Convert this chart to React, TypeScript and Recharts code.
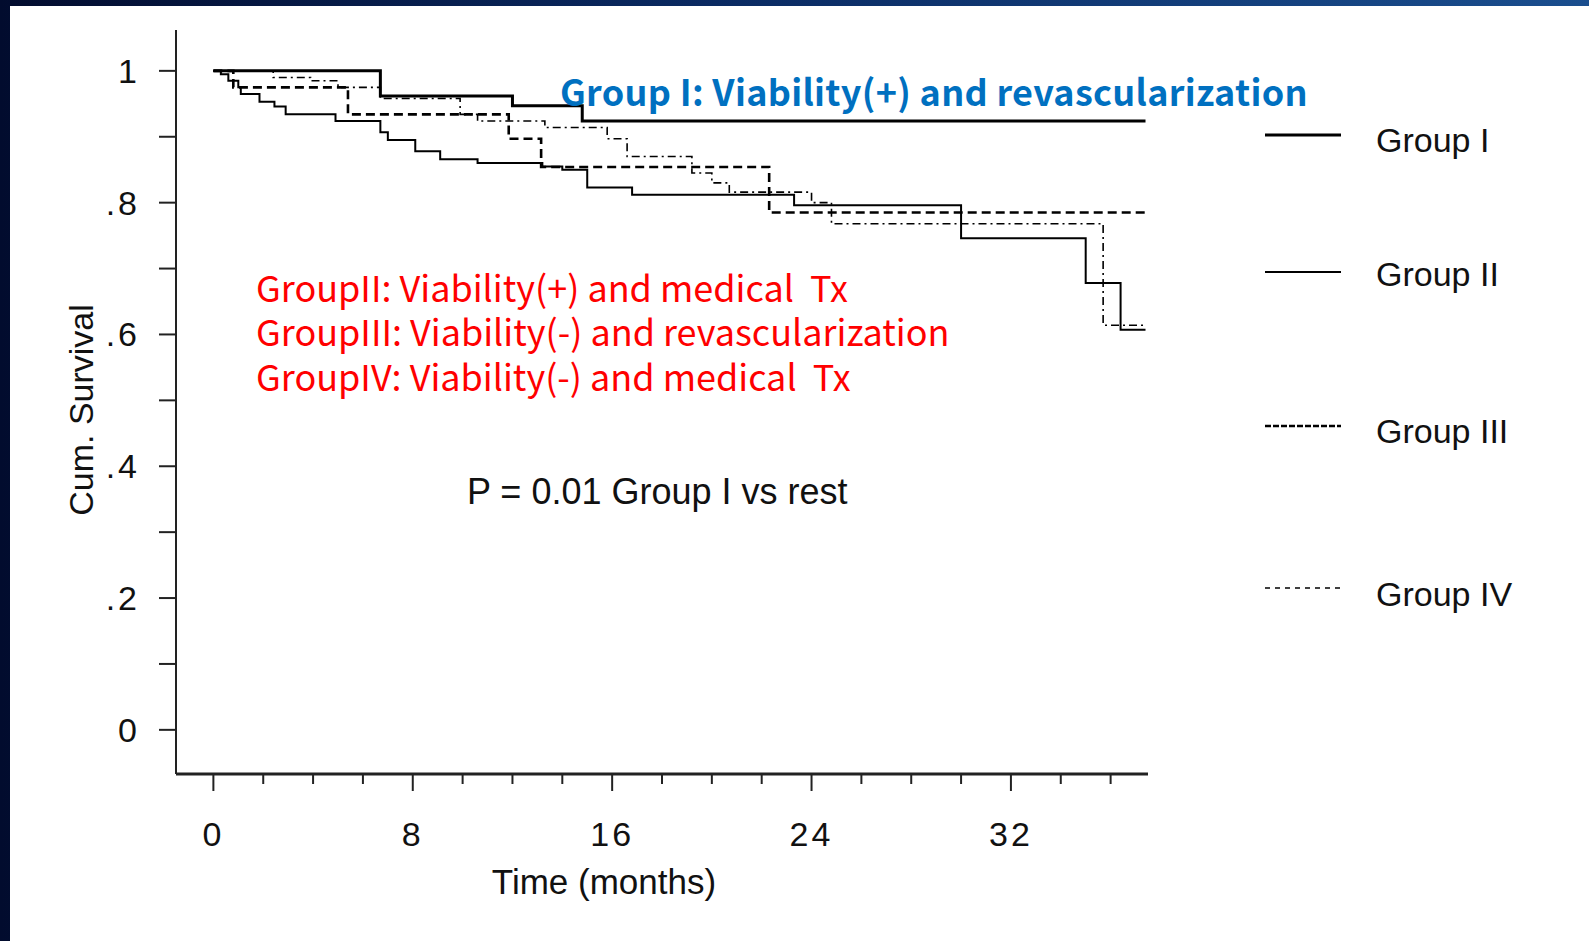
import React from "react";
import { LineChart, Line, XAxis, YAxis } from "recharts";

// Kaplan-Meier steps (months, cumulative survival)
const group1Time = [0, 6.7, 12.0, 14.8, 37.4];
const group1Surv = [1.0, 0.962, 0.947, 0.924, 0.924];

const group2Time = [0, 0.3, 0.6, 1.0, 1.1, 1.85, 2.45, 2.9, 4.9, 6.7, 7.0, 8.1, 9.1, 10.6, 13.2, 14.0, 15.0, 16.8, 23.3, 30.0, 35.0, 36.4, 37.4];
const group2Surv = [1.0, 0.995, 0.985, 0.975, 0.965, 0.953, 0.946, 0.934, 0.924, 0.907, 0.895, 0.878, 0.866, 0.86, 0.855, 0.85, 0.823, 0.812, 0.796, 0.746, 0.678, 0.607, 0.607];

const group3Time = [0, 0.8, 5.4, 11.85, 13.15, 22.3, 37.4];
const group3Surv = [1.0, 0.975, 0.934, 0.897, 0.854, 0.785, 0.785];

const group4Time = [0, 2.4, 3.9, 5.0, 6.7, 9.9, 10.6, 13.3, 15.8, 16.6, 19.2, 20.0, 20.7, 24.0, 24.8, 35.7, 37.4];
const group4Surv = [1.0, 0.99, 0.985, 0.975, 0.958, 0.934, 0.924, 0.914, 0.897, 0.87, 0.845, 0.83, 0.816, 0.8, 0.768, 0.614, 0.614];

const xTicks = [0, 2, 4, 6, 8, 10, 12, 14, 16, 18, 20, 22, 24, 26, 28, 30, 32, 34, 36];
const xMajor = [0, 8, 16, 24, 32];
const yTicks = [0, 0.1, 0.2, 0.3, 0.4, 0.5, 0.6, 0.7, 0.8, 0.9, 1];
const yTickLabels = ["0", "", ".2", "", ".4", "", ".6", "", ".8", "", "1"];

const legendNames = ["Group I", "Group II", "Group III", "Group IV"];
const noteLines = [
  "GroupII: Viability(+) and medical  Tx",
  "GroupIII: Viability(-) and revascularization",
  "GroupIV: Viability(-) and medical  Tx",
];

const toData = (t: number[], s: number[]) => t.map((v, i) => ({ t: v, s: s[i] }));

const W = 1589;
const H = 941;
const axisFont = "'Liberation Sans', Arial, Helvetica, sans-serif";
const slideFont = "'Noto Sans CJK KR', 'Noto Sans', sans-serif";

const seriesStyle = [
  { width: 3, dash: undefined },
  { width: 2, dash: undefined },
  { width: 2.6, dash: "9 5" },
  { width: 1.6, dash: "8 4 2 4" },
];
const legendY = [135, 272, 426, 588];
const legendTextY = [140, 274, 431, 594];

const XTick = (props: any) => {
  const { x, y, payload } = props;
  const major = xMajor.includes(payload.value);
  return (
    <g>
      <line x1={x} x2={x} y1={y} y2={y + (major ? 17 : 10)} stroke="#222" strokeWidth={2} />
      {major && (
        <text x={x} y={y + 60} dy="0.35em" textAnchor="middle" fontSize={34}
          fontFamily={axisFont} letterSpacing={3} fill="#111">
          {payload.value}
        </text>
      )}
    </g>
  );
};

const YTick = (props: any) => {
  const { x, y, payload } = props;
  const idx = yTicks.indexOf(payload.value);
  return (
    <g>
      <line x1={x - 17} x2={x} y1={y} y2={y} stroke="#222" strokeWidth={2} />
      <text x={x - 36} y={y} dy="0.35em" textAnchor="end" fontSize={34}
        fontFamily={axisFont} letterSpacing={3} fill="#111">
        {yTickLabels[idx]}
      </text>
    </g>
  );
};

export default function App() {
  const series = [
    toData(group1Time, group1Surv),
    toData(group2Time, group2Surv),
    toData(group3Time, group3Surv),
    toData(group4Time, group4Surv),
  ];
  return (
    <div style={{ position: "fixed", left: 0, top: 0, width: W, height: H, overflow: "hidden",
      background: "linear-gradient(90deg, #020c2e 0%, #0a2a62 45%, #1a4e8e 100%)" }}>
      <div style={{ position: "absolute", left: 10, top: 6, right: 0, bottom: 0, background: "#fff" }} />
      <div style={{ position: "absolute", left: 0, top: 0 }}>
        <LineChart width={W} height={H} margin={{ top: 30, left: 175, right: W - 1148, bottom: H - 775 }}>
          <XAxis type="number" dataKey="t" domain={[-1.5, 37.5]} ticks={xTicks} interval={0}
            allowDataOverflow height={1} tickLine={false} tickSize={0} tickMargin={0}
            axisLine={{ stroke: "#222", strokeWidth: 3 }} tick={<XTick />} />
          <YAxis type="number" dataKey="s" domain={[-0.067, 1.062]} ticks={yTicks} interval={0}
            allowDataOverflow width={1} tickLine={false} tickSize={0} tickMargin={0}
            axisLine={{ stroke: "#222", strokeWidth: 2 }} tick={<YTick />} />
          {series.map((d, i) => (
            <Line key={legendNames[i]} data={d} dataKey="s" type="stepAfter" stroke="#000"
              strokeWidth={seriesStyle[i].width} strokeDasharray={seriesStyle[i].dash}
              dot={false} activeDot={false} isAnimationActive={false} />
          ))}
        </LineChart>
      </div>

      {/* legend and slide annotations */}
      <svg style={{ position: "absolute", left: 0, top: 0 }} width={W} height={H}>
        {legendNames.map((n, i) => (
          <g key={n}>
            <line x1={1265} x2={1341} y1={legendY[i]} y2={legendY[i]} stroke="#000"
              strokeWidth={seriesStyle[i].width} strokeDasharray={i === 2 ? "6 2" : i === 3 ? "5 5" : undefined} />
            <text x={1376} y={legendTextY[i]} dy="0.35em" fontSize={34} fontFamily={axisFont} fill="#111">{n}</text>
          </g>
        ))}
        <text x={0} y={0} transform="translate(81,410) rotate(-90)" textAnchor="middle" dy="0.35em"
          fontSize={34} fontFamily={axisFont} fill="#111">Cum. Survival</text>
        <text x={604} y={882} textAnchor="middle" dy="0.35em" fontSize={35} fontFamily={axisFont} fill="#111">Time (months)</text>
        <text x={467} y={491} dy="0.35em" fontSize={36} fontFamily={axisFont} fill="#111">P = 0.01 Group I vs rest</text>
        <text x={560} y={93} dy="0.35em" fontSize={36} letterSpacing={0.3} fontWeight="bold" fontFamily={slideFont} fill="#0070C0">
          Group I: Viability(+) and revascularization
        </text>
        {noteLines.map((t, i) => (
          <text key={t} x={256} y={289 + i * 44.5} dy="0.35em" fontSize={36}
            fontFamily={slideFont} fill="#FF0000" style={{ whiteSpace: "pre" }}>
            {t}
          </text>
        ))}
      </svg>
    </div>
  );
}
